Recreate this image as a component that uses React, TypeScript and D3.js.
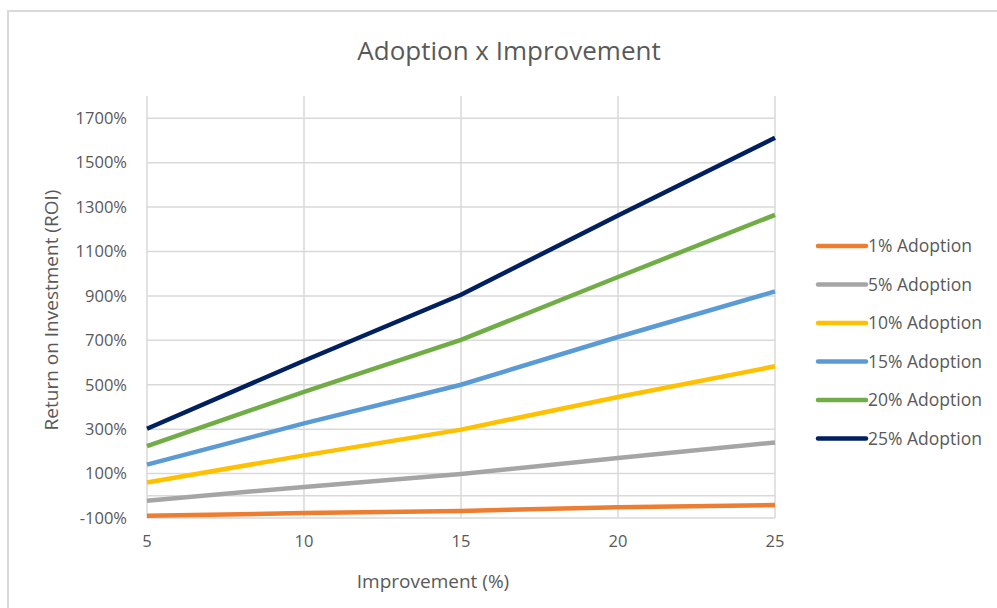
import React, { useEffect, useRef } from "react";
import * as d3 from "d3";

const improvement = [5, 10, 15, 20, 25];
const seriesNames = [
  "1% Adoption",
  "5% Adoption",
  "10% Adoption",
  "15% Adoption",
  "20% Adoption",
  "25% Adoption"
];
const adopt1 = [-90, -78, -68, -52, -42];
const adopt5 = [-22, 40, 98, 170, 240];
const adopt10 = [60, 182, 298, 445, 583];
const adopt15 = [140, 326, 500, 715, 920];
const adopt20 = [224, 468, 702, 985, 1265];
const adopt25 = [302, 608, 905, 1262, 1612];
const seriesValues = [adopt1, adopt5, adopt10, adopt15, adopt20, adopt25];
const colours = ["#ED7D31", "#A5A5A5", "#FFC000", "#5B9BD5", "#70AD47", "#002060"];
const yTicks = [-100, 100, 300, 500, 700, 900, 1100, 1300, 1500, 1700];
const xTicks = [5, 10, 15, 20, 25];

const width = 997;
const height = 608;
const font = "'Open Sans', sans-serif";

export default function App() {
  const svgRef = useRef<SVGSVGElement>(null);

  useEffect(() => {
    const svg = d3.select(svgRef.current);
    svg.selectAll("*").remove();

    const x = d3.scaleLinear().domain([5, 25]).range([147, 775]);
    const y = d3.scaleLinear().domain([-100, 1800]).range([518, 96]);

    svg
      .append("rect")
      .attr("x", 8)
      .attr("y", 11)
      .attr("width", 1000)
      .attr("height", 620)
      .attr("fill", "#fff")
      .attr("stroke", "#d9d9d9")
      .attr("stroke-width", 2);

    svg
      .append("text")
      .attr("x", 509)
      .attr("y", 60)
      .attr("text-anchor", "middle")
      .attr("font-family", font)
      .attr("font-size", 26)
      .attr("fill", "#595959")
      .text("Adoption x Improvement");

    // gridlines (extra one at 0 where the horizontal axis crosses)
    const grid = svg.append("g").attr("stroke", "#d9d9d9").attr("stroke-width", 1.5);
    grid
      .selectAll("line.h")
      .data(yTicks.concat([0]))
      .enter()
      .append("line")
      .attr("x1", x(5))
      .attr("x2", x(25))
      .attr("y1", d => y(d))
      .attr("y2", d => y(d));
    grid
      .selectAll("line.v")
      .data(xTicks)
      .enter()
      .append("line")
      .attr("x1", d => x(d))
      .attr("x2", d => x(d))
      .attr("y1", y(1800))
      .attr("y2", y(-100));

    // y tick labels
    svg
      .append("g")
      .selectAll("text")
      .data(yTicks)
      .enter()
      .append("text")
      .attr("x", 127)
      .attr("y", d => y(d))
      .attr("dy", "0.35em")
      .attr("text-anchor", "end")
      .attr("font-family", font)
      .attr("font-size", 16.5)
      .attr("fill", "#595959")
      .text(d => d + "%");

    // x tick labels
    svg
      .append("g")
      .selectAll("text")
      .data(xTicks)
      .enter()
      .append("text")
      .attr("x", d => x(d))
      .attr("y", 547)
      .attr("text-anchor", "middle")
      .attr("font-family", font)
      .attr("font-size", 16.5)
      .attr("fill", "#595959")
      .text(d => d);

    svg
      .append("text")
      .attr("x", 433)
      .attr("y", 588)
      .attr("text-anchor", "middle")
      .attr("font-family", font)
      .attr("font-size", 19)
      .attr("fill", "#595959")
      .text("Improvement (%)");

    svg
      .append("text")
      .attr("transform", "translate(58,310) rotate(-90)")
      .attr("text-anchor", "middle")
      .attr("font-family", font)
      .attr("font-size", 19)
      .attr("fill", "#595959")
      .text("Return on Investment (ROI)");

    const line = d3
      .line<number>()
      .x((d, i) => x(improvement[i]))
      .y(d => y(d));

    svg
      .append("g")
      .selectAll("path")
      .data(seriesValues)
      .enter()
      .append("path")
      .attr("d", d => line(d))
      .attr("fill", "none")
      .attr("stroke", (d, i) => colours[i])
      .attr("stroke-width", 4.5);

    // legend
    const legend = svg
      .append("g")
      .selectAll("g")
      .data(seriesNames)
      .enter()
      .append("g")
      .attr("transform", (d, i) => `translate(818,${246 + i * 38.5})`);
    legend
      .append("line")
      .attr("x1", 0)
      .attr("x2", 48)
      .attr("stroke", (d, i) => colours[i])
      .attr("stroke-width", 4.5)
      .attr("stroke-linecap", "round");
    legend
      .append("text")
      .attr("x", 50)
      .attr("dy", "0.35em")
      .attr("font-family", font)
      .attr("font-size", 17.5)
      .attr("fill", "#595959")
      .text(d => d);
  }, []);

  return (
    <div style={{ position: "absolute", left: 0, top: 0 }}>
      <svg width={width} height={height} ref={svgRef} style={{ display: "block" }} />
    </div>
  );
}
